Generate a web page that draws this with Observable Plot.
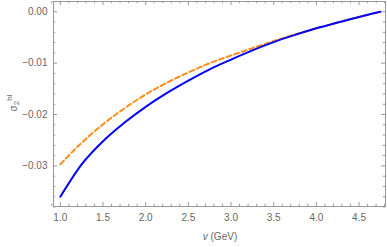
<!DOCTYPE html>
<html>
<head>
<meta charset="utf-8">
<script src="https://cdn.jsdelivr.net/npm/d3@7"></script>
<script src="https://cdn.jsdelivr.net/npm/@observablehq/plot@0.6"></script>
<style>
  html, body { margin: 0; padding: 0; background: #fff; }
  #chart svg { display: block; }
</style>
</head>
<body>
<div id="chart"></div>
<script>
const v = [1.0, 1.25, 1.5, 1.75, 2.0, 2.25, 2.5, 2.75, 3.0, 3.25, 3.5, 3.75, 4.0, 4.25, 4.5, 4.75];
const blueVals = [-0.0360, -0.0297, -0.0252, -0.0216, -0.0185, -0.0158, -0.0134, -0.0112, -0.0093, -0.0075, -0.0059, -0.0045, -0.0032, -0.0021, -0.0010, 0.0];
const orangeVals = [-0.0297, -0.0255, -0.0219, -0.0188, -0.0161, -0.0138, -0.0118, -0.0100, -0.0085, -0.0071, -0.0057, -0.0044, -0.0032, -0.0021, -0.0010, 0.0];
const xMajor = [1.0, 1.5, 2.0, 2.5, 3.0, 3.5, 4.0, 4.5];
const xMinor = d3.range(9, 49).map(i => i / 10).filter(t => Math.abs(t * 2 - Math.round(t * 2)) > 1e-9);
const yMajor = [0.00, -0.01, -0.02, -0.03];
const yMinor = d3.range(-19, 2).map(i => i * 0.002).filter(t => Math.abs(t * 100 - Math.round(t * 100)) > 1e-6);

const blue = v.map((x, i) => ({x, y: blueVals[i]}));
const orange = v.map((x, i) => ({x, y: orangeVals[i]}));

const W = 387, H = 247, mL = 53, mR = 2, mT = 1, mB = 41;
const pw = W - mL - mR, ph = H - mT - mB;
const major = 4, minor = 2.2;
const gray = "#999";

const plot = Plot.plot({
  width: W, height: H,
  marginLeft: mL, marginRight: mR, marginTop: mT, marginBottom: mB,
  style: {fontFamily: "'Liberation Sans', Arial, sans-serif", fontSize: "10px", background: "#fff"},
  x: {domain: [0.92, 4.81], label: null},
  y: {domain: [-0.0379, 0.002], label: null},
  marks: [
    Plot.line(orange, {x: "x", y: "y", stroke: "#ff8c1a", strokeWidth: 2, strokeDasharray: "5,3", curve: "monotone-x"}),
    Plot.line(blue, {x: "x", y: "y", stroke: "#0000ff", strokeWidth: 2, curve: "monotone-x"}),
    Plot.frame({stroke: gray}),
    // bottom / top ticks
    Plot.tickX(xMajor, {x: d => d, stroke: gray, insetTop: ph - major}),
    Plot.tickX(xMinor, {x: d => d, stroke: gray, insetTop: ph - minor}),
    Plot.tickX(xMajor, {x: d => d, stroke: gray, insetBottom: ph - major}),
    Plot.tickX(xMinor, {x: d => d, stroke: gray, insetBottom: ph - minor}),
    // left / right ticks
    Plot.tickY(yMajor, {y: d => d, stroke: gray, insetRight: pw - major}),
    Plot.tickY(yMinor, {y: d => d, stroke: gray, insetRight: pw - minor}),
    Plot.tickY(yMajor, {y: d => d, stroke: gray, insetLeft: pw - major}),
    Plot.tickY(yMinor, {y: d => d, stroke: gray, insetLeft: pw - minor}),
    Plot.axisX({ticks: xMajor, tickSize: 0, tickPadding: 7, tickFormat: d3.format(".1f"), color: "#666", fontSize: 10, label: null}),
    Plot.axisY({ticks: yMajor, tickSize: 0, tickPadding: 6, tickFormat: d3.format(".2f"), color: "#666", fontSize: 10, label: null})
  ]
});

document.getElementById("chart").appendChild(plot);

const svg = d3.select(plot);
// x-axis title
const xt = svg.append("text")
  .attr("x", mL + pw / 2 + 1)
  .attr("y", 240)
  .attr("text-anchor", "middle")
  .attr("fill", "#666")
  .attr("font-size", 10);
xt.append("tspan").attr("font-style", "italic").text("v");
xt.append("tspan").text(" (GeV)");

// y-axis title
const yt = svg.append("text")
  .attr("transform", "translate(17,103) rotate(-90)")
  .attr("text-anchor", "middle")
  .attr("fill", "#666")
  .attr("font-size", 10);
yt.append("tspan").text("σ");
yt.append("tspan").attr("font-size", 8).attr("dy", 2).text("2");
yt.append("tspan").attr("font-size", 8).attr("dy", -7).text("hl");
</script>
</body>
</html>
